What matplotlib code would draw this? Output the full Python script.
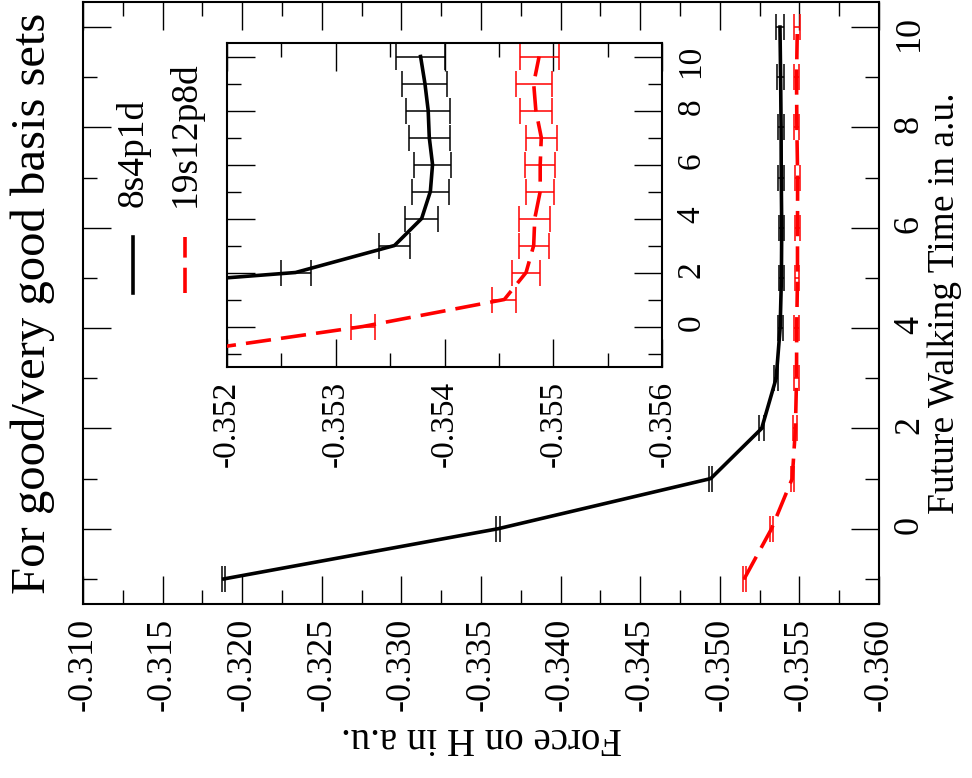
import matplotlib
matplotlib.use("Agg")
import matplotlib.pyplot as plt
from matplotlib.ticker import MultipleLocator, FormatStrFormatter

plt.rcParams['font.family'] = ['Liberation Serif', 'DejaVu Serif']
plt.rcParams['axes.unicode_minus'] = False

# ---- data ----
time = [-1, 0, 1, 2, 3, 4, 5, 6, 7, 8, 9, 10]
force_8s4p1d = [-0.31885, -0.33607, -0.34943, -0.35263, -0.35354, -0.35379,
                -0.35387, -0.35389, -0.35386, -0.35385, -0.35382, -0.35378]
err_8s4p1d = [0.00010, 0.00010, 0.00010, 0.000138, 0.000144, 0.000149,
              0.000167, 0.000172, 0.000189, 0.000202, 0.000207, 0.000222]
force_19s12p8d = [-0.35153, -0.35325, -0.35455, -0.35475, -0.35482, -0.35483,
                  -0.35488, -0.35488, -0.35489, -0.35484, -0.35482, -0.35487]
err_19s12p8d = [0.00010, 0.000107, 0.000109, 0.000127, 0.000138, 0.000141,
                0.000126, 0.000138, 0.000141, 0.000149, 0.000164, 0.000179]
labels = ["8s4p1d", "19s12p8d"]
title = "For good/very good basis sets"
xlabel = "Force on H in a.u."
ylabel = "Future Walking Time in a.u."

W, H = 972, 778
fig = plt.figure(figsize=(W / 100, H / 100), dpi=100)

def px_axes(l, t, r, b):
    return fig.add_axes([l / W, (H - b) / H, (r - l) / W, (b - t) / H])

ax = px_axes(83, 2, 879, 604)
ins = px_axes(227, 43, 662, 367)

LW = 2.6
DASH = (0, (7.0, 2.8))
CAP = 9.7

def draw(a):
    a.errorbar(force_8s4p1d, time, xerr=err_8s4p1d, color='black', lw=LW,
               elinewidth=1.1, capsize=CAP, capthick=1.1, zorder=3)
    a.errorbar(force_19s12p8d, time, xerr=err_19s12p8d, color='#ff0000', lw=LW,
               ls=DASH, elinewidth=1.1, capsize=CAP, capthick=1.1, zorder=3)

def style(a, xlim, xmaj, xmin, fs, pad):
    a.set_xlim(*xlim)
    a.set_ylim(-1.5, 10.5)
    a.xaxis.set_major_locator(MultipleLocator(xmaj))
    a.xaxis.set_minor_locator(MultipleLocator(xmin))
    a.xaxis.set_major_formatter(FormatStrFormatter('%.3f'))
    a.yaxis.set_major_locator(MultipleLocator(2))
    a.yaxis.set_minor_locator(MultipleLocator(1))
    a.tick_params(which='both', direction='in', top=True, bottom=True,
                  left=True, right=True, labelleft=False, labelright=True,
                  width=1.0, colors='black')
    a.tick_params(which='major', length=20)
    a.tick_params(which='minor', length=10)
    a.tick_params(axis='x', labelrotation=90, labelsize=fs, pad=pad)
    a.tick_params(axis='y', labelrotation=90, labelsize=fs, pad=pad)
    for s in a.spines.values():
        s.set_linewidth(1.5)

draw(ax)
style(ax, (-0.310, -0.360), 0.005, 0.0025, 26, 10)
draw(ins)
style(ins, (-0.352, -0.356), 0.001, 0.0005, 24, 10)
ins.set_facecolor('white')

ax.yaxis.set_label_position('right')
ax.set_ylabel(ylabel, fontsize=27, rotation=90, labelpad=1)
ax.set_xlabel(xlabel, fontsize=28, rotation=180, labelpad=6)

ax.text(-0.063, 0.5, title, transform=ax.transAxes, rotation=90,
        fontsize=35, ha='center', va='center')

# legend (drawn in axes fraction)
ax.plot([0.0628, 0.0628], [0.5166, 0.6096], transform=ax.transAxes,
        color='black', lw=LW, clip_on=False)
ax.plot([0.128, 0.128], [0.5166, 0.6096], transform=ax.transAxes,
        color='#ff0000', lw=LW, ls=DASH, clip_on=False)
ax.text(0.0628, 0.66, labels[0], transform=ax.transAxes, rotation=90,
        fontsize=27, ha='center', va='bottom')
ax.text(0.128, 0.66, labels[1], transform=ax.transAxes, rotation=90,
        fontsize=27, ha='center', va='bottom')

fig.savefig("out.png", dpi=100)
